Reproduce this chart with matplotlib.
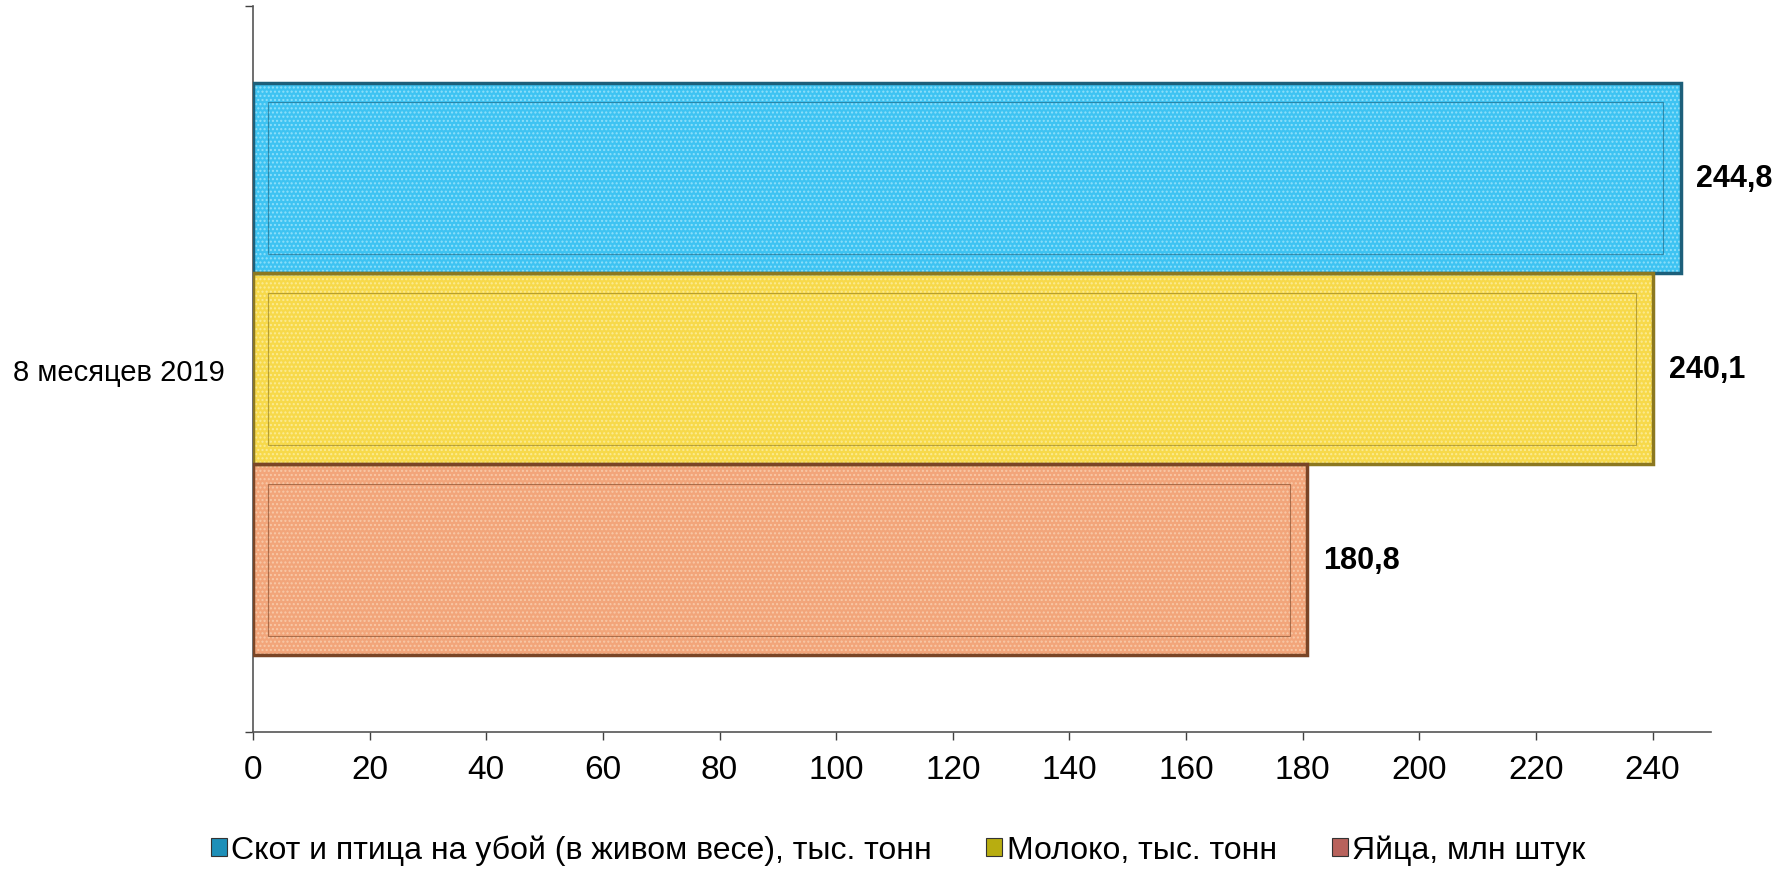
import matplotlib.pyplot as plt
from matplotlib.patches import Patch

plt.rcParams['font.family'] = ['Liberation Sans', 'DejaVu Sans']

category = "8 месяцев 2019"
series = ["Скот и птица на убой (в живом весе), тыс. тонн",
          "Молоко, тыс. тонн",
          "Яйца, млн штук"]
values = [244.8, 240.1, 180.8]
value_labels = ["244,8", "240,1", "180,8"]

face = ["#3ec3f2", "#f7d94a", "#f2a57a"]
dots = ["#8fe0fa", "#fbeb95", "#f8c9a8"]
edge = ["#1d5f7a", "#8c7820", "#7a4526"]
legend_col = ["#1d8fb8", "#b8ad10", "#b8625c"]

fig = plt.figure(figsize=(17.89, 8.70), dpi=100)
ax = fig.add_axes([0.1414, 0.1575, 0.815, 0.8345])

h = 0.263
pos = [h, 0, -h]
for i in range(3):
    ax.barh(pos[i], values[i], height=h, color=face[i], hatch="....",
            edgecolor=dots[i], linewidth=0, zorder=2)
    ax.barh(pos[i], values[i], height=h, fill=False, edgecolor=edge[i],
            linewidth=2.5, zorder=3)
    # inner bevel line
    ax.barh(pos[i], values[i] - 5.5, left=2.5, height=h * 0.8, fill=False,
            edgecolor=edge[i], linewidth=0.8, alpha=0.6, zorder=3)
    ax.annotate(value_labels[i], (values[i], pos[i]), xytext=(11, 0),
                textcoords="offset points", ha="left", va="center",
                fontsize=22, fontweight="bold")

ax.set_xlim(0, 250)
ax.set_ylim(-0.5, 0.5)
ax.set_xticks(range(0, 241, 20))
ax.tick_params(axis="x", labelsize=24, length=6, width=1, color="#404040", pad=10)
ax.set_yticks([0])
ax.set_yticklabels([category], fontsize=21)
ax.set_yticks([-0.5, 0.5], minor=True)
ax.tick_params(axis="y", which="major", length=0, pad=20)
ax.tick_params(axis="y", which="minor", length=6, width=1, color="#404040")

for s in ["top", "right"]:
    ax.spines[s].set_visible(False)
for s in ["left", "bottom"]:
    ax.spines[s].set_color("#555555")
    ax.spines[s].set_linewidth(1.2)

handles = [Patch(facecolor=legend_col[i], edgecolor="#333333", linewidth=0.8)
           for i in range(3)]
fig.legend(handles, series, loc="center", bbox_to_anchor=(0.502, 0.022),
           ncol=3, frameon=False, fontsize=23, handlelength=0.5,
           handleheight=0.5, handletextpad=0.15, columnspacing=1.7)

fig.savefig("out.png", dpi=100)
